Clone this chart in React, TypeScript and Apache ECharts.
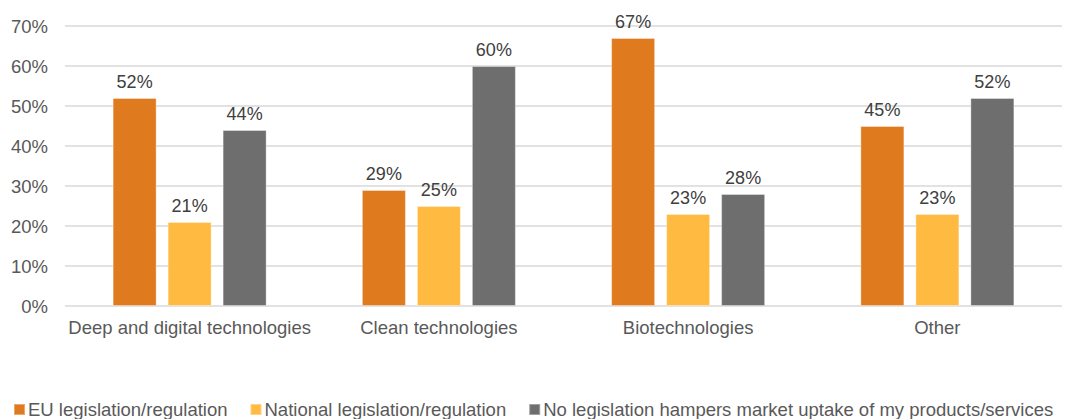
import React, { useEffect, useRef } from "react";
import * as echarts from "echarts";

const categories = [
  "Deep and digital technologies",
  "Clean technologies",
  "Biotechnologies",
  "Other",
];
const euValues = [52, 29, 67, 45];
const nationalValues = [21, 25, 23, 23];
const noneValues = [44, 60, 28, 52];
const seriesNames = [
  "EU legislation/regulation",
  "National legislation/regulation",
  "No legislation hampers market uptake of my products/services",
];
const colors = ["#E07A1F", "#FFBA42", "#6E6E6E"];

const FONT = "'Liberation Sans', Arial, sans-serif";

export default function App() {
  const ref = useRef<HTMLDivElement>(null);

  useEffect(() => {
    if (!ref.current) return;
    const chart = echarts.init(ref.current, undefined, { renderer: "svg" });
    const makeSeries = (name: string, data: number[], color: string) => ({
      name,
      type: "bar",
      data,
      barWidth: 44,
      barGap: "25%",
      itemStyle: { color, borderColor: "rgba(255,255,255,0.35)", borderWidth: 1 },
      label: {
        show: true,
        position: "top",
        distance: 7,
        formatter: "{c}%",
        color: "#404040",
        fontSize: 18,
        fontFamily: FONT,
      },
    });
    chart.setOption({
      animation: false,
      color: colors,
      grid: { left: 65, right: 4, top: 26, bottom: 113, containLabel: false },
      legend: {
        left: 13,
        top: 400,
        right: 0,
        padding: 0,
        itemWidth: 11,
        itemHeight: 11,
        itemGap: 22,
        icon: "rect",
        textStyle: {
          color: "#595959",
          fontSize: 18.5,
          lineHeight: 18,
          fontFamily: FONT,
          padding: [0, 0, 0, -2],
        },
        data: seriesNames,
      },
      xAxis: {
        type: "category",
        data: categories,
        axisLine: { show: false },
        axisTick: { show: false },
        axisLabel: {
          interval: 0,
          color: "#595959",
          fontSize: 18.5,
          fontFamily: FONT,
          margin: 12,
        },
      },
      yAxis: {
        type: "value",
        min: 0,
        max: 70,
        interval: 10,
        axisLine: { show: false },
        axisTick: { show: false },
        axisLabel: {
          formatter: "{value}%",
          color: "#595959",
          fontSize: 18.5,
          fontFamily: FONT,
          margin: 17,
        },
        splitLine: { lineStyle: { color: "#d9d9d9", width: 1.5 } },
      },
      series: [
        makeSeries(seriesNames[0], euValues, colors[0]),
        makeSeries(seriesNames[1], nationalValues, colors[1]),
        makeSeries(seriesNames[2], noneValues, colors[2]),
      ],
    });
    return () => chart.dispose();
  }, []);

  return (
    <div
      ref={ref}
      style={{ position: "fixed", left: 0, top: 0, width: 1066, height: 419, background: "#fff" }}
    />
  );
}
